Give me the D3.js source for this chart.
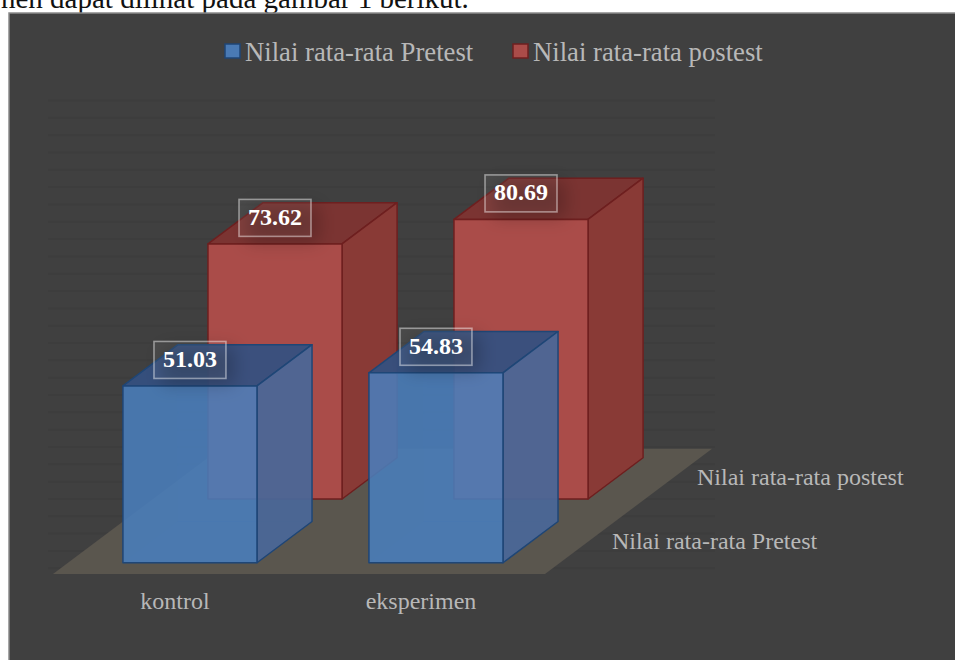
<!DOCTYPE html>
<html>
<head>
<meta charset="utf-8">
<script src="https://cdn.jsdelivr.net/npm/d3@7"></script>
<style>
  body { margin: 0; background: #fff; }
  text { font-family: "Liberation Serif", serif; }
</style>
</head>
<body>
<script>
const categories = ["kontrol", "eksperimen"];
const seriesNames = ["Nilai rata-rata Pretest", "Nilai rata-rata postest"];
const pretest = [51.03, 54.83];
const postest = [73.62, 80.69];

const width = 955, height = 660;
const floorY = 574, slant = 0.75;

const svg = d3.select("body").append("svg")
  .attr("width", width)
  .attr("height", height)
  .style("display", "block");

const defs = svg.append("defs");
defs.append("filter").attr("id", "soft")
  .attr("x", "-50%").attr("y", "-50%").attr("width", "200%").attr("height", "200%")
  .append("feGaussianBlur").attr("stdDeviation", 9);

// text above the chart, cut off by the crop of the page
svg.append("text")
  .attr("x", 1).attr("y", 8)
  .attr("font-size", 29).attr("fill", "#111")
  .text("nen dapat dilihat pada gambar 1 berikut.");

// panel
svg.append("rect")
  .attr("x", 9).attr("y", 13)
  .attr("width", width).attr("height", height)
  .attr("fill", "#404040")
  .attr("stroke", "#8a8a8a").attr("stroke-width", 1.5);

// scales
const x = d3.scaleBand().domain(categories).range([52, 544])
  .paddingInner(0.455).paddingOuter(0.2275);
const depth = d3.scaleBand().domain(seriesNames).range([0, 170])
  .paddingInner(0.353).paddingOuter(0.176);
const y = d3.scaleLinear().domain([0, 100]).range([floorY, floorY - 346.5]);
const yWall = d3.scaleLinear().domain([-36.8, 100]).range([floorY, 100]);

function pt(px, v, d) {
  return [px + d, y(v) - d * slant];
}
function face(points) {
  return d3.line()(points) + "Z";
}

// back wall gridlines
svg.append("g")
  .attr("transform", "translate(48,0)")
  .call(d3.axisLeft(yWall).tickValues(d3.range(-35, 101, 5)).tickSize(-667).tickFormat(""))
  .call(g => g.select(".domain").remove())
  .call(g => g.selectAll("line").attr("stroke", "#3d3d3d").attr("stroke-width", 2));

// floor
svg.append("path")
  .attr("d", face([pt(53, 0, 0), pt(545, 0, 0), pt(545, 0, 167), pt(53, 0, 167)]))
  .attr("fill", "#5a564e");

const styles = {
  "Nilai rata-rata postest": {
    front: "#aa4c49", side: "#893a36", top: "#7b3432", edge: "#6e1f1f", alpha: 1, sideAlpha: 1
  },
  "Nilai rata-rata Pretest": {
    front: "#497ebc", side: "#4a6797", top: "#35507f", edge: "#1f4676", alpha: 0.87, sideAlpha: 0.94
  }
};

const rows = [];
[postest, pretest].forEach(function(vals, k) {
  const name = k === 0 ? seriesNames[1] : seriesNames[0];
  categories.forEach(function(c, i) {
    rows.push({ cat: c, series: name, value: vals[i] });
  });
});

const bars = svg.selectAll("g.bar")
  .data(rows)
  .enter()
  .append("g")
  .attr("class", "bar");

bars.each(function(d) {
  const g = d3.select(this);
  const s = styles[d.series];
  const x0 = x(d.cat), x1 = x0 + x.bandwidth();
  const d0 = depth(d.series), d1 = d0 + depth.bandwidth();
  const add = function(points, fill, alpha) {
    g.append("path")
      .attr("d", face(points))
      .attr("fill", fill)
      .attr("fill-opacity", alpha)
      .attr("stroke", s.edge)
      .attr("stroke-width", 1.5)
      .attr("stroke-linejoin", "round");
  };
  // hidden faces, just showing through
  g.append("path")
    .attr("d", face([pt(x0, 0, d0), pt(x1, 0, d0), pt(x1, 0, d1), pt(x0, 0, d1)]) +
      face([pt(x0, 0, d1), pt(x1, 0, d1), pt(x1, d.value, d1), pt(x0, d.value, d1)]))
    .attr("fill", s.front).attr("fill-opacity", 0.05)
    .attr("stroke", s.edge).attr("stroke-opacity", 0.15);
  add([pt(x0, d.value, d0), pt(x1, d.value, d0), pt(x1, d.value, d1), pt(x0, d.value, d1)], s.top, s.alpha === 1 ? 1 : 0.95);
  add([pt(x1, 0, d0), pt(x1, 0, d1), pt(x1, d.value, d1), pt(x1, d.value, d0)], s.side, s.sideAlpha);
  add([pt(x0, 0, d0), pt(x1, 0, d0), pt(x1, d.value, d0), pt(x0, d.value, d0)], s.front, s.alpha);

  // value label
  const cx = x0 + d0 + x.bandwidth() / 2;
  const cy = pt(x0, d.value, d0)[1] - 26;
  const boxW = 72, boxH = 37;
  g.append("rect")
    .attr("x", cx - boxW / 2 + 8).attr("y", cy - boxH / 2 + 6)
    .attr("width", boxW).attr("height", boxH)
    .attr("fill", "#000").attr("fill-opacity", 0.22)
    .attr("filter", "url(#soft)");
  g.append("rect")
    .attr("x", cx - boxW / 2).attr("y", cy - boxH / 2)
    .attr("width", boxW).attr("height", boxH)
    .attr("fill", "#fff").attr("fill-opacity", 0.06)
    .attr("stroke", "#fff").attr("stroke-opacity", 0.45).attr("stroke-width", 1.6);
  g.append("text")
    .attr("x", cx).attr("y", cy + 7)
    .attr("text-anchor", "middle")
    .attr("font-size", 24).attr("font-weight", "bold")
    .attr("fill", "#fff")
    .text(d3.format(".2f")(d.value));
});

// category axis
svg.append("g")
  .attr("transform", "translate(0," + floorY + ")")
  .call(d3.axisBottom(x).tickSize(0).tickPadding(18))
  .call(g => g.select(".domain").remove())
  .call(g => g.selectAll("text")
    .style("font-family", '"Liberation Serif", serif')
    .attr("font-size", 24).attr("fill", "#b8b8b8"));

// depth axis labels
svg.selectAll("text.series")
  .data(seriesNames)
  .enter()
  .append("text")
  .attr("class", "series")
  .attr("x", d => 545 + depth(d) + 52)
  .attr("y", d => floorY - depth(d) * slant - 14)
  .attr("font-size", 24).attr("fill", "#b8b8b8")
  .text(d => d);

// legend
const legendX = [225, 513];
const legend = svg.selectAll("g.legend")
  .data(seriesNames)
  .enter()
  .append("g")
  .attr("class", "legend")
  .attr("transform", (d, i) => "translate(" + legendX[i] + ",44)");
legend.append("rect")
  .attr("width", 15).attr("height", 14)
  .attr("fill", d => d === seriesNames[0] ? "#4a7ab4" : "#aa4c49")
  .attr("stroke", d => styles[d].edge).attr("stroke-width", 1.5);
legend.append("text")
  .attr("x", 20).attr("y", 17)
  .attr("font-size", 26.7).attr("fill", "#b8b8b8")
  .text(d => d);
</script>
</body>
</html>
